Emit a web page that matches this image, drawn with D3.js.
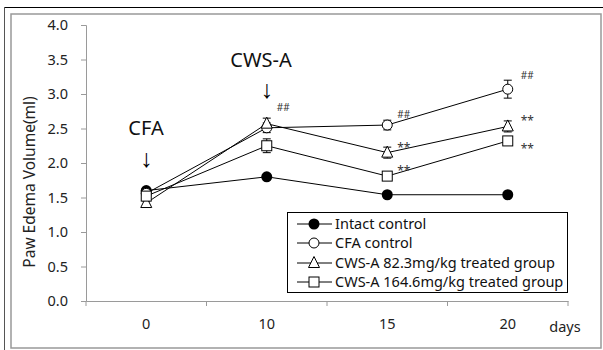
<!DOCTYPE html>
<html><head><meta charset="utf-8">
<script src="https://cdn.jsdelivr.net/npm/d3@7"></script>
<style>body{margin:0;background:#fff}svg{display:block}text{font-family:"Noto Sans",sans-serif}</style>
</head><body><svg id="c" width="603" height="350"></svg>
<script>
const days = ["0","10","15","20"];
const yTicks = [0,0.5,1,1.5,2,2.5,3,3.5,4];
const intact = [1.60,1.80,1.54,1.54];
const cfa = [1.56,2.51,2.55,3.07];
const cws82 = [1.42,2.57,2.15,2.53];
const cws164 = [1.52,2.25,1.81,2.32];
const errIntact = [0.02,0.02,0.02,0.02];
const errCfa = [0.03,0.07,0.07,0.13];
const errCws82 = [0.03,0.08,0.08,0.08];
const errCws164 = [0.05,0.10,0.04,0.04];
const seriesNames = ["Intact control","CFA control","CWS-A 82.3mg/kg treated group","CWS-A 164.6mg/kg treated group"];
const marks15 = ["##","**","**"];
const marks20 = ["##","**","**"];

const svg = d3.select("#c");
// frame
svg.append("line").attr("x1",4).attr("x2",603).attr("y1",7.5).attr("y2",7.5).attr("stroke","#000");
svg.append("line").attr("x1",4.5).attr("x2",4.5).attr("y1",7).attr("y2",350).attr("stroke","#555");
svg.append("rect").attr("x",11).attr("y",14).attr("width",590).attr("height",334).attr("fill","#fff").attr("stroke","#999").attr("stroke-width",1.5);

const x = d3.scaleBand().domain(days).range([86,568]);
const y = d3.scaleLinear().domain([0,4]).range([301,25]);
const cx = d => x(d)+x.bandwidth()/2;
const axisColor = "#9a9a9a";
const fs = 14.5;

// y axis
const ya = svg.append("g").attr("transform","translate(86,0)")
  .call(d3.axisLeft(y).tickValues(yTicks).tickFormat(d3.format(".1f")).tickSize(5).tickPadding(13));
ya.select(".domain").attr("stroke",axisColor);
ya.selectAll(".tick line").attr("stroke",axisColor);
ya.selectAll("text").attr("font-size",fs).attr("fill","#222").attr("font-family","Noto Sans");

// x axis
const xa = svg.append("g").attr("transform","translate(0,301)")
  .call(d3.axisBottom(x).tickSize(0).tickPadding(18));
xa.select(".domain").attr("stroke",axisColor);
xa.selectAll("text").attr("font-size",fs).attr("fill","#222").attr("font-family","Noto Sans");
const bounds = days.map(d=>x(d)).concat([x.range()[1]]);
svg.append("g").selectAll("line").data(bounds).join("line")
  .attr("x1",d=>d).attr("x2",d=>d).attr("y1",301).attr("y2",306).attr("stroke",axisColor);
svg.append("text").attr("x",565).attr("y",332).attr("text-anchor","middle").attr("font-size",fs).attr("fill","#222").text("days");

// y title
svg.append("text").attr("transform","translate(35,182) rotate(-90)").attr("text-anchor","middle")
  .attr("font-size",15.5).attr("fill","#222").text("Paw Edema Volume(ml)");

// annotations
svg.append("text").attr("x",261).attr("y",67).attr("text-anchor","middle").attr("font-size",20).attr("fill","#111").text("CWS-A");
svg.append("text").attr("x",cx("10")).attr("y",97.5).attr("text-anchor","middle").attr("font-size",25).attr("font-weight",300).attr("font-family","Inter").attr("fill","#000").text("↓");
svg.append("text").attr("x",146).attr("y",135).attr("text-anchor","middle").attr("font-size",20).attr("fill","#111").text("CFA");
svg.append("text").attr("x",cx("0")).attr("y",166.5).attr("text-anchor","middle").attr("font-size",25).attr("font-weight",300).attr("font-family","Inter").attr("fill","#000").text("↓");

const series = [
  {v:intact,e:errIntact,m:"dot"},
  {v:cfa,e:errCfa,m:"circle"},
  {v:cws82,e:errCws82,m:"tri"},
  {v:cws164,e:errCws164,m:"sq"}
];
const line = d3.line().x((d,i)=>cx(days[i])).y(d=>y(d));

function marker(g,type,px,py){
  if(type==="dot") g.append("circle").attr("cx",px).attr("cy",py).attr("r",5.5).attr("fill","#000");
  else if(type==="circle") g.append("circle").attr("cx",px).attr("cy",py).attr("r",5).attr("fill","#fff").attr("stroke","#000");
  else if(type==="tri") g.append("path").attr("d",`M${px},${py-6.5}L${px+5.5},${py+4.5}L${px-5.5},${py+4.5}Z`).attr("fill","#fff").attr("stroke","#000");
  else g.append("rect").attr("x",px-5).attr("y",py-5).attr("width",10).attr("height",10).attr("fill","#fff").attr("stroke","#000");
}

const plot = svg.append("g");
series.forEach(s=>{
  plot.append("path").attr("d",line(s.v)).attr("fill","none").attr("stroke","#000").attr("stroke-width",1);
});
series.forEach(s=>{
  s.v.forEach((v,i)=>{
    const px = cx(days[i]);
    const g = plot.append("g").attr("stroke","#000");
    g.append("line").attr("x1",px).attr("x2",px).attr("y1",y(v+s.e[i])).attr("y2",y(v-s.e[i]));
    [v+s.e[i],v-s.e[i]].forEach(t=>g.append("line").attr("x1",px-4).attr("x2",px+4).attr("y1",y(t)).attr("y2",y(t)));
  });
});
series.forEach(s=>{ s.v.forEach((v,i)=>marker(plot,s.m,cx(days[i]),y(v))); });

// significance marks
const sig = svg.append("g").attr("fill","#333");
sig.append("text").attr("x",cx("10")+10).attr("y",111).attr("font-size",10).attr("font-family","DejaVu Sans").text("##");
[cfa,cws82,cws164].forEach((arr,k)=>{
  sig.append("text").attr("x",cx("15")+10).attr("y",y(arr[2])-(k===0?7:1)).attr("font-size",k===0?10:12).attr("font-family","DejaVu Sans").text(marks15[k]);
});
const off20 = [-10,-1,12];
[cfa,cws82,cws164].forEach((arr,k)=>{
  sig.append("text").attr("x",cx("20")+13).attr("y",y(arr[3])+off20[k]).attr("font-size",k===0?10:12).attr("font-family","DejaVu Sans").text(marks20[k]);
});

// legend
const lg = svg.append("g");
lg.append("rect").attr("x",287.5).attr("y",212.5).attr("width",280).attr("height",80).attr("fill","#fff").attr("stroke","#000");
const ly = [224,243,263,282];
series.forEach((s,i)=>{
  lg.append("line").attr("x1",297).attr("x2",332).attr("y1",ly[i]).attr("y2",ly[i]).attr("stroke","#000");
  marker(lg,s.m,314,ly[i]);
  lg.append("text").attr("x",335).attr("y",ly[i]+5).attr("font-size",fs).attr("fill","#111").text(seriesNames[i]);
});
</script></body></html>
